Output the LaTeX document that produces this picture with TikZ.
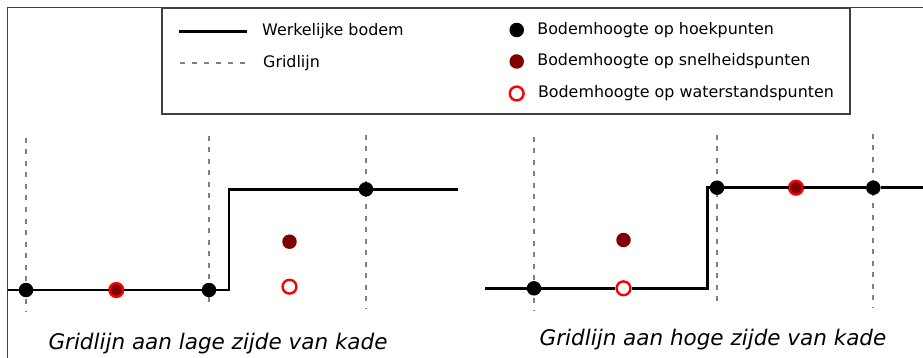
\documentclass[tikz,border=0pt]{standalone}
\usepackage{fontspec}
\setmainfont{DejaVu Sans}
\usetikzlibrary{positioning,fit}
\definecolor{donkerrood}{RGB}{128,0,0}
\definecolor{gridgrijs}{RGB}{128,128,128}

\begin{document}
\begin{tikzpicture} [x=1pt, y=-1pt,
		every node/.style={inner sep=0pt, font=\fontsize{15.9}{18}\selectfont},
		kader/.style={draw=black!75, line width=1.1pt},
		legendbox/.style={draw=black!75, line width=1.3pt, rectangle},
		bodem/.style={draw=black, line width=2.6pt},
		grid/.style={draw=gridgrijs, line width=2pt, dash pattern=on 5pt off 6.5pt},
		gridlgd/.style={draw=gridgrijs, line width=1.8pt, dash pattern=on 5pt off 7pt},
		hoek/.style={circle, fill=black, minimum size=14.5pt},
		snelheid/.style={circle, fill=donkerrood, minimum size=14.5pt},
		waterstand/.style={circle, draw=red, line width=2.4pt, minimum size=13.8pt},
		bijschrift/.style={font=\fontsize{21.5}{24}\selectfont\itshape, anchor=base}
	]
	\useasboundingbox (0,0) rectangle (923,358);

	% kader
	\draw[kader] (923,7.5) -- (7.5,7.5) -- (7.5,358);

	% legenda
	\coordinate (lb1) at (162,8);
	\coordinate (lb2) at (850,114);
	\node (legenda) [legendbox, fit={(lb1) (lb2)}] {};

	\coordinate (lg1a) at (179,31.5);
	\coordinate (lg1b) at (247,31.5);
	\draw[bodem] (lg1a) -- (lg1b);
	\node (lgt1) [right=15pt of lg1b] {Werkelijke bodem};

	\coordinate (lg2a) at (180,62.7);
	\coordinate (lg2b) at (245,62.7);
	\draw[gridlgd] (lg2a) -- (lg2b);
	\node (lgt2) [right=18pt of lg2b] {Gridlijn};

	\node (lgd1) [hoek] at (516.7,30) {};
	\node (lgt3) [right=13pt of lgd1] {Bodemhoogte op hoekpunten};
	\node (lgd2) [snelheid] at (516.7,61.5) {};
	\node (lgt4) [right=13pt of lgd2] {Bodemhoogte op snelheidspunten};
	\node (lgd3) [waterstand] at (516.7,93.5) {};
	\node (lgt5) [right=13pt of lgd3] {Bodemhoogte op waterstandspunten};

	% gridlijn aan lage zijde
	\coordinate (lgr1a) at (26,138);
	\coordinate (lgr1b) at (26,312);
	\coordinate (lgr2a) at (209,136);
	\coordinate (lgr2b) at (209,307);
	\coordinate (lgr3a) at (366,135);
	\coordinate (lgr3b) at (366,308);
	\draw[grid] (lgr1a) -- (lgr1b);
	\draw[grid] (lgr2a) -- (lgr2b);
	\draw[grid] (lgr3a) -- (lgr3b);

	\node (lhk1) [hoek] at (26,290) {};
	\node (lsn1) [snelheid] at (116.3,290) {};
	\node (lws1) [waterstand] at (116.3,290) {};
	\node (lhk2) [hoek] at (209,290) {};
	\node (lhk3) [hoek] at (366,189.3) {};
	\node (lsn2) [snelheid] at (289.5,241.7) {};
	\node (lws2) [waterstand] at (289.5,286.7) {};

	\coordinate (lb0) at (7.5,290);
	\coordinate (lk1) at (229,290);
	\coordinate (lk2) at (229,189.3);
	\coordinate (le) at (458,189.3);
	\draw[bodem] (lb0) -- (lhk1) -- (lsn1) -- (lhk2) -- (lk1) -- (lk2) -- (lhk3) -- (le);

	\node (lcap) [bijschrift] at (218,349.5) {Gridlijn aan lage zijde van kade};

	% gridlijn aan hoge zijde
	\coordinate (rgr1a) at (534,137);
	\coordinate (rgr1b) at (534,310.7);
	\coordinate (rgr2a) at (717,135);
	\coordinate (rgr2b) at (717,306);
	\coordinate (rgr3a) at (873.3,134);
	\coordinate (rgr3b) at (873.3,307);
	\draw[grid] (rgr1a) -- (rgr1b);
	\draw[grid] (rgr2a) -- (rgr2b);
	\draw[grid] (rgr3a) -- (rgr3b);

	\node (rhk1) [hoek] at (534,288.3) {};
	\node (rws1) [waterstand] at (623.5,288.3) {};
	\node (rsn1) [snelheid] at (623.5,240) {};
	\node (rhk2) [hoek] at (717,187.7) {};
	\node (rsn2) [snelheid] at (796,187.7) {};
	\node (rws2) [waterstand] at (796,187.7) {};
	\node (rhk3) [hoek] at (873.3,187.7) {};

	\coordinate (rb0) at (485,288.3);
	\coordinate (rk1) at (707.3,288.3);
	\coordinate (rk2) at (707.3,187.7);
	\coordinate (re) at (923,187.7);
	\draw[bodem] (rb0) -- (rhk1) -- (rws1) -- (rk1) -- (rk2) -- (rhk2) -- (rsn2) -- (rhk3) -- (re);

	\node (rcap) [bijschrift] at (713,345) {Gridlijn aan hoge zijde van kade};

\end{tikzpicture}
\end{document}
